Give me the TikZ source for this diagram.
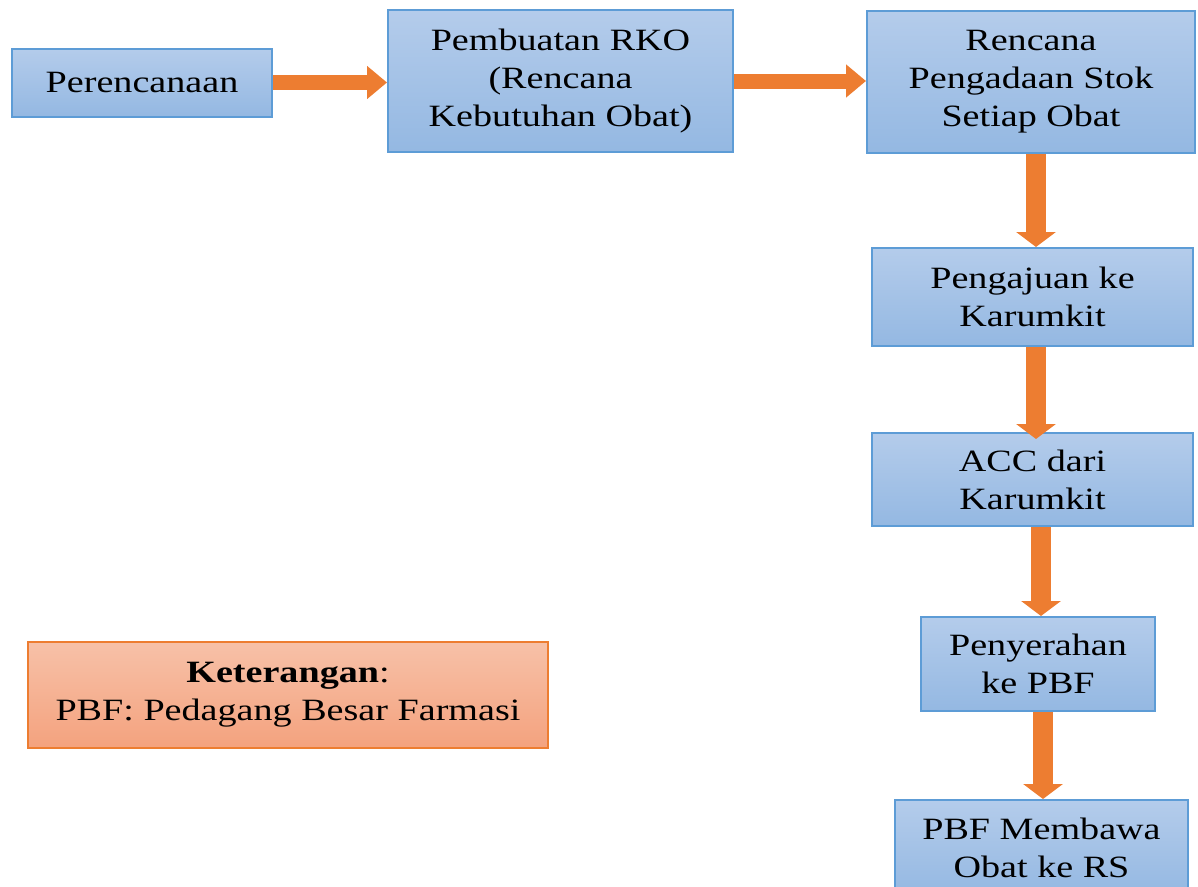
\documentclass[tikz,border=0pt]{standalone}
\usepackage{fontspec}
\setmainfont{Liberation Serif}[FakeStretch=1.23]
\usetikzlibrary{arrows.meta}
\definecolor{boxtop}{RGB}{180,204,235}
\definecolor{boxbot}{RGB}{148,184,226}
\definecolor{boxline}{RGB}{93,156,214}
\definecolor{arrowcol}{RGB}{237,125,49}
\definecolor{kettop}{RGB}{247,193,168}
\definecolor{ketbot}{RGB}{244,162,126}
\definecolor{ketline}{RGB}{237,125,49}
\tikzset{
  flowbox/.style={draw=boxline, line width=2pt, top color=boxtop, bottom color=boxbot,
    inner sep=0pt, align=center, text=black, font=\fontsize{31}{38}\selectfont},
  ketbox/.style={draw=ketline, line width=2pt, top color=kettop, bottom color=ketbot,
    inner sep=0pt, align=center, text=black, font=\fontsize{31}{38}\selectfont,
    minimum width=520pt, minimum height=106pt},
  harrow/.style={draw=arrowcol, line width=15pt, -{Triangle[length=20pt,width=32pt]}},
  varrow/.style={draw=arrowcol, line width=20pt, -{Triangle[length=15pt,width=39pt]}}
}
\begin{document}
\begin{tikzpicture}[x=1pt,y=-1pt]
\useasboundingbox (0,0) rectangle (1198,886);
\node[flowbox, minimum width=260pt, minimum height=68pt] (p1) at (142,82.5) {Perencanaan};
\node[flowbox, minimum width=345pt, minimum height=142pt] (p2) at (560.5,81) {Pembuatan RKO\\(Rencana\\Kebutuhan Obat)};
\node[flowbox, minimum width=328pt, minimum height=142pt] (p3) at (1031,82) {Rencana\\Pengadaan Stok\\Setiap Obat};
\node[flowbox, minimum width=321pt, minimum height=98pt] (p4) at (1032.5,297) {Pengajuan ke\\Karumkit};
\node[flowbox, minimum width=321pt, minimum height=93pt] (p5) at (1032.5,479.5) {ACC dari\\Karumkit};
\node[flowbox, minimum width=234pt, minimum height=94pt] (p6) at (1038,664) {Penyerahan\\ke PBF};
\node[flowbox, minimum width=293pt, minimum height=96pt] (p7) at (1041.5,848) {PBF Membawa\\Obat ke RS};
\node[ketbox] (ket) at (288,695) {\textbf{Keterangan}:\\PBF: Pedagang Besar Farmasi};
\draw[harrow] (p1.east) -- (p1.east -| p2.west);
\draw[harrow] (p2.east) -- (p2.east -| p3.west);
\draw[varrow] ([xshift=5pt]p3.south) -- ([xshift=5pt]p3.south |- p4.north);
\draw[varrow] ([xshift=3.5pt]p4.south) -- ([xshift=3.5pt,yshift=-7pt]p4.south |- p5.north);
\draw[varrow] ([xshift=8.5pt]p5.south) -- ([xshift=8.5pt]p5.south |- p6.north);
\draw[varrow] ([xshift=5pt]p6.south) -- ([xshift=5pt]p6.south |- p7.north);
\end{tikzpicture}
\end{document}
